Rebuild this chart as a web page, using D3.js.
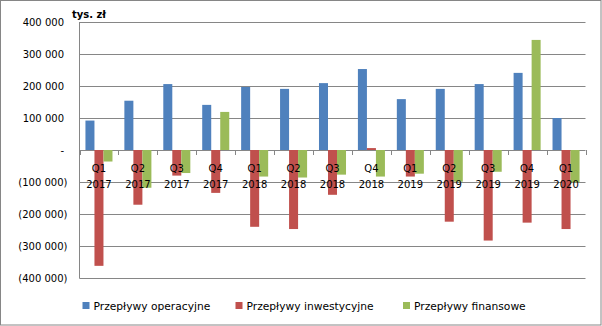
<!DOCTYPE html>
<html><head><meta charset="utf-8">
<script src="https://cdn.jsdelivr.net/npm/d3@7"></script>
<style>body{margin:0;background:#fff}svg{display:block}text{font-family:"DejaVu Sans",Verdana,sans-serif;fill:#000}</style>
</head><body>
<script>
const quarters = ["Q1","Q2","Q3","Q4","Q1","Q2","Q3","Q4","Q1","Q2","Q3","Q4","Q1"];
const years = ["2017","2017","2017","2017","2018","2018","2018","2018","2019","2019","2019","2019","2020"];
const seriesNames = ["Przepływy operacyjne","Przepływy inwestycyjne","Przepływy finansowe"];
const operacyjne = [92000,154000,206000,141000,197000,191000,209000,253000,159000,191000,206000,241000,100000];
const inwestycyjne = [-362000,-171000,-80000,-134000,-240000,-247000,-140000,6000,-83000,-224000,-283000,-227000,-247000];
const finansowe = [-36000,-118000,-72000,119000,-83000,-86000,-77000,-83000,-74000,-99000,-68000,344000,-101000];
const yTicks = [400000,300000,200000,100000,0,-100000,-200000,-300000,-400000];
const colors = ["#4F81BD","#C0504D","#9BBB59"];

(function(){
const W=602,H=326;
const svg=d3.select("body").append("svg").attr("width",W).attr("height",H);
svg.append("rect").attr("x",0.5).attr("y",0.5).attr("width",W-1.5).attr("height",H-1.5).attr("fill","#fff").attr("stroke","#868686");

const pL=79.5,pR=585.5,pT=22,pB=278;
const y=d3.scaleLinear().domain([-400000,400000]).range([pB,pT]);
const idx=d3.range(quarters.length);
const x0=d3.scaleBand().domain(idx).range([pL,pR]).padding(0);
const x1=d3.scaleBand().domain([0,1,2]).range([0,x0.bandwidth()]).paddingInner(0).paddingOuter(0.66);

const fmt=v=>{ if(v===0) return "-"; const s=d3.format(",")(Math.abs(v)).replace(/,/g," "); return v<0?"("+s+")":s; };

svg.append("g").selectAll("line").data(yTicks).join("line")
  .attr("x1",pL).attr("x2",pR).attr("y1",d=>Math.round(y(d))+0.5).attr("y2",d=>Math.round(y(d))+0.5)
  .attr("stroke","#868686").attr("stroke-width",1);
svg.append("line").attr("x1",pL).attr("x2",pL).attr("y1",y(400000)).attr("y2",y(-400000)+0.5).attr("stroke","#868686");
svg.append("g").selectAll("text").data(yTicks).join("text")
  .attr("x",d=>d<0?67.5:64).attr("y",d=>y(d)+3.6).attr("text-anchor","end").attr("font-size","10px")
  .text(fmt);

const vals=[operacyjne,inwestycyjne,finansowe];
vals.forEach((arr,s)=>{
  svg.append("g").selectAll("rect").data(arr).join("rect")
    .attr("x",(d,i)=>x0(i)+x1(s)).attr("width",x1.bandwidth())
    .attr("y",d=>y(Math.max(0,d))).attr("height",d=>Math.abs(y(d)-y(0)))
    .attr("fill",colors[s]);
});

const tickXs=idx.map(i=>x0(i)).concat([pR]);
svg.append("g").selectAll("line").data(tickXs).join("line")
  .attr("x1",d=>Math.round(d)+0.5).attr("x2",d=>Math.round(d)+0.5).attr("y1",y(0)).attr("y2",y(0)+5)
  .attr("stroke","#868686");

const lab=svg.append("g");
lab.selectAll("text.q").data(idx).join("text").attr("class","q")
  .attr("x",i=>x0(i)+x0.bandwidth()/2).attr("y",172).attr("text-anchor","middle").attr("font-size","10px").text(i=>quarters[i]);
lab.selectAll("text.yr").data(idx).join("text").attr("class","yr")
  .attr("x",i=>x0(i)+x0.bandwidth()/2).attr("y",188).attr("text-anchor","middle").attr("font-size","10px").text(i=>years[i]);

svg.append("text").attr("x",72).attr("y",18).attr("font-size","10px").attr("font-weight","bold").text("tys. zł");

const legX=[82.5,235.5,403];
seriesNames.forEach((n,s)=>{
  svg.append("rect").attr("x",legX[s]).attr("y",302).attr("width",7).attr("height",7).attr("fill",colors[s]);
  svg.append("text").attr("x",legX[s]+11).attr("y",309.5).attr("font-size","10.7px").text(n);
});
})();
</script>
</body></html>
